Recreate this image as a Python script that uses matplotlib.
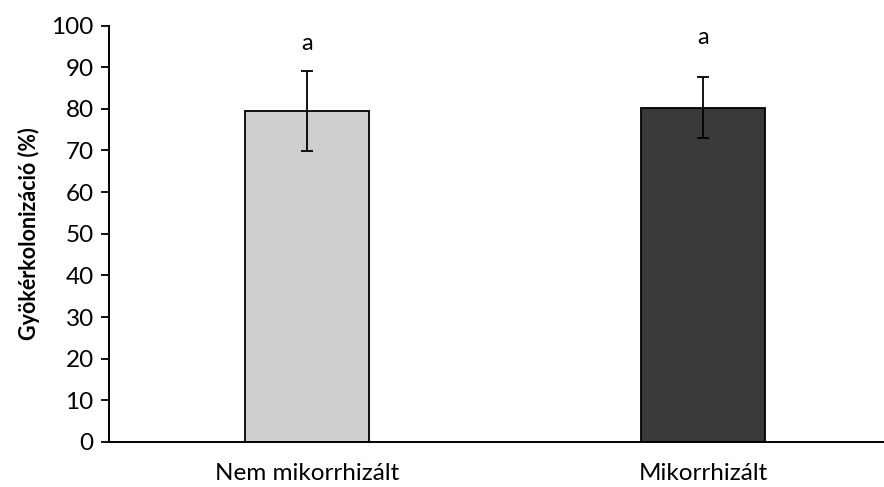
import matplotlib.pyplot as plt

# mean root colonisation with standard deviation
categories = ["Nem mikorrhizált", "Mikorrhizált"]
means = [79.5, 80.3]
err_low = [9.6, 7.4]
err_high = [9.5, 7.3]
letters = ["a", "a"]
letter_y = [93.2, 94.7]
colors = ["#D0CECE", "#3B3838"]

plt.rcParams['font.family'] = ['Lato', 'DejaVu Sans']

fig = plt.figure(figsize=(8.84, 4.87), dpi=100)
ax = fig.add_axes([109 / 884, 45 / 487, 1 - 109 / 884, (442 - 25.5) / 487])

x = list(range(len(categories)))
ax.bar(x, means, width=0.315, color=colors, edgecolor="black", linewidth=1.3, zorder=2)
ax.errorbar(x, means, yerr=[err_low, err_high], fmt="none", ecolor="black",
            elinewidth=1.3, capsize=4.3, capthick=1.3, zorder=3)

for xi, lab, ly in zip(x, letters, letter_y):
    ax.text(xi, ly, lab, ha="center", va="bottom", fontsize=17)

ax.set_ylim(0, 100)
ax.set_xlim(-0.5, 1.457)
ax.set_yticks(range(0, 101, 10))
ax.set_xticks(x)
ax.set_xticklabels(categories, fontsize=17.5)
ax.tick_params(axis="y", labelsize=17.5, length=6, width=1.3, direction="out", pad=5)
ax.tick_params(axis="x", length=0, pad=15)

ax.spines["top"].set_visible(False)
ax.spines["right"].set_visible(False)
ax.spines["left"].set_linewidth(1.4)
ax.spines["bottom"].set_linewidth(1.4)

ax.set_ylabel("Gyökérkolonizáció (%)", fontsize=15.5, fontweight="bold", labelpad=8)

fig.savefig("out.png", dpi=100)
